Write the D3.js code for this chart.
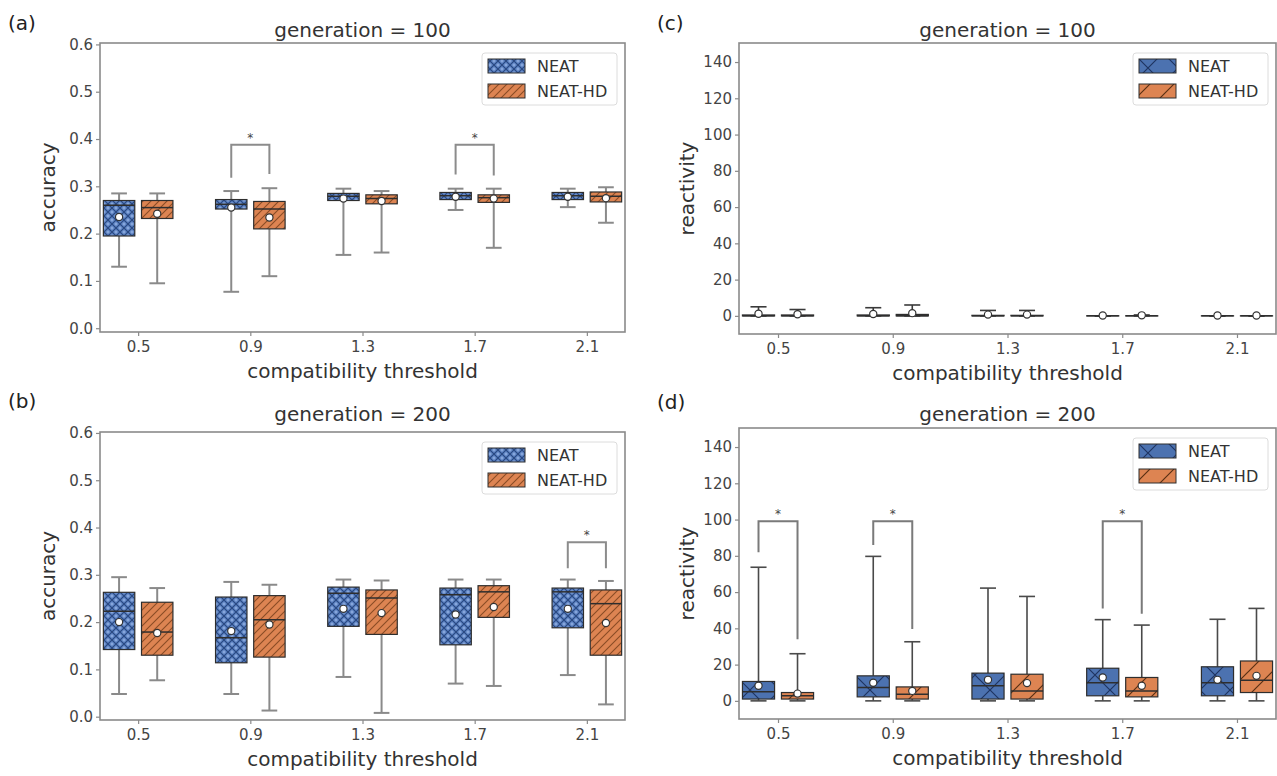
<!DOCTYPE html>
<html>
<head>
<meta charset="utf-8">
<script src="https://cdn.jsdelivr.net/npm/d3@7"></script>
<style>
  body { margin: 0; background: #fff; }
  svg text { font-family: "DejaVu Sans", "Liberation Sans", Arial, sans-serif; }
</style>
</head>
<body>
<svg id="fig" width="1277" height="776"></svg>
<script>
// ---- data -------------------------------------------------------------
const categories = ["0.5", "0.9", "1.3", "1.7", "2.1"];
const seriesNames = ["NEAT", "NEAT-HD"];
const accuracyTicks = [0, 0.1, 0.2, 0.3, 0.4, 0.5, 0.6];
const reactivityTicks = [0, 20, 40, 60, 80, 100, 120, 140];

// each row: [whisker low, q1, median, q3, whisker high, mean]
const accGen100Neat = [
  [0.130, 0.195, 0.260, 0.270, 0.285, 0.235],
  [0.077, 0.252, 0.262, 0.272, 0.290, 0.255],
  [0.155, 0.270, 0.279, 0.285, 0.295, 0.274],
  [0.250, 0.272, 0.280, 0.287, 0.295, 0.278],
  [0.256, 0.272, 0.280, 0.287, 0.295, 0.278]
];
const accGen100Hd = [
  [0.095, 0.232, 0.255, 0.270, 0.285, 0.242],
  [0.110, 0.210, 0.252, 0.268, 0.296, 0.234],
  [0.160, 0.263, 0.274, 0.282, 0.290, 0.269],
  [0.170, 0.266, 0.276, 0.282, 0.295, 0.274],
  [0.223, 0.267, 0.279, 0.288, 0.298, 0.275]
];
const accGen200Neat = [
  [0.048, 0.142, 0.223, 0.263, 0.295, 0.200],
  [0.048, 0.114, 0.167, 0.253, 0.285, 0.181],
  [0.084, 0.191, 0.261, 0.274, 0.290, 0.228],
  [0.070, 0.152, 0.258, 0.272, 0.290, 0.216],
  [0.088, 0.188, 0.264, 0.272, 0.290, 0.228]
];
const accGen200Hd = [
  [0.077, 0.130, 0.179, 0.242, 0.272, 0.177],
  [0.013, 0.126, 0.205, 0.256, 0.279, 0.195],
  [0.008, 0.174, 0.251, 0.268, 0.288, 0.219],
  [0.065, 0.210, 0.264, 0.277, 0.290, 0.232],
  [0.026, 0.130, 0.239, 0.268, 0.287, 0.198]
];
const reactGen100Neat = [
  [0, 0, 0, 0.5, 5.0, 1.2],
  [0, 0, 0, 0.5, 4.5, 1.0],
  [0, 0, 0, 0.3, 3.0, 0.7],
  [0, 0, 0, 0.0, 0.0, 0.2],
  [0, 0, 0, 0.0, 0.0, 0.2]
];
const reactGen100Hd = [
  [0, 0, 0, 0.5, 3.5, 0.9],
  [0, 0, 0, 0.8, 6.0, 1.5],
  [0, 0, 0, 0.3, 3.0, 0.7],
  [0, 0, 0, 0.0, 0.5, 0.3],
  [0, 0, 0, 0.0, 0.0, 0.2]
];
const reactGen200Neat = [
  [0, 1.0, 5.0, 10.7, 73.7, 8.3],
  [0, 2.2, 7.4, 13.8, 79.7, 10.0],
  [0, 1.0, 8.3, 15.3, 62.2, 11.6],
  [0, 2.8, 10.0, 18.0, 44.8, 12.9],
  [0, 2.8, 10.0, 18.8, 45.0, 11.6]
];
const reactGen200Hd = [
  [0, 1.0, 2.8, 4.6, 26.0, 4.0],
  [0, 1.0, 3.7, 7.7, 32.6, 5.5],
  [0, 1.0, 5.5, 14.7, 57.6, 9.8],
  [0, 2.2, 5.5, 12.9, 41.8, 8.3],
  [0, 4.6, 11.4, 22.0, 51.0, 13.8]
];

// significance brackets: category index, bracket top, left / right leg ends
const sigAccGen100 = [
  { cat: 1, top: 0.388, left: 0.318, right: 0.326 },
  { cat: 3, top: 0.388, left: 0.325, right: 0.323 }
];
const sigAccGen200 = [
  { cat: 4, top: 0.369, left: 0.314, right: 0.314 }
];
const sigReactGen100 = [];
const sigReactGen200 = [
  { cat: 0, top: 99, left: 82, right: 34 },
  { cat: 1, top: 99, left: 86, right: 39.6 },
  { cat: 3, top: 99, left: 51, right: 48 }
];

// ---- drawing ----------------------------------------------------------
const svg = d3.select("#fig");
const defs = svg.append("defs");

function addPattern(id, size, bg, draw) {
  const p = defs.append("pattern")
    .attr("id", id)
    .attr("patternUnits", "userSpaceOnUse")
    .attr("width", size).attr("height", size);
  p.append("rect").attr("width", size).attr("height", size).attr("fill", bg);
  draw(p, size);
}

// fine hatches (accuracy panels)
addPattern("neatFine", 8, "#4a70b0", (p, s) => {
  p.append("path").attr("d", `M0,0L${s},${s}M0,${s}L${s},0`)
    .attr("stroke", "#2c4a82").attr("stroke-width", 1);
  [[s / 2, 0], [s / 2, s], [0, s / 2], [s, s / 2]].forEach(([cx, cy]) =>
    p.append("circle").attr("cx", cx).attr("cy", cy).attr("r", 1.7).attr("fill", "#86a6dc"));
});
addPattern("hdFine", 8, "#dd8452", (p, s) => {
  p.append("path").attr("d", `M-1,1L1,-1M0,${s}L${s},0M${s - 1},${s + 1}L${s + 1},${s - 1}`)
    .attr("stroke", "#8a4b24").attr("stroke-width", 1.1);
});
// coarse hatches (reactivity panels)
addPattern("neatCoarse", 30, "#4c72b0", (p, s) => {
  p.append("path").attr("d", `M0,0L${s},${s}M0,${s}L${s},0`)
    .attr("stroke", "#1e3461").attr("stroke-width", 1.2);
});
addPattern("hdCoarse", 24, "#dd8452", (p, s) => {
  p.append("path").attr("d", `M-2,2L2,-2M0,${s}L${s},0M${s - 2},${s + 2}L${s + 2},${s - 2}`)
    .attr("stroke", "#5a2f12").attr("stroke-width", 1.2);
});

const panels = [
  { label: "(a)", labelX: 8, labelY: 30, title: "generation = 100", titleY: 37, ylab: "accuracy",
    x0: 100, x1: 625, y0: 43, y1: 332, domain: [-0.008, 0.603], ticks: accuracyTicks, fmt: d3.format(".1f"),
    series: [accGen100Neat, accGen100Hd], sig: sigAccGen100, fills: ["neatFine", "hdFine"],
    whisker: "#8a8a8a", bracket: "#8c8c8c" },
  { label: "(b)", labelX: 8, labelY: 408, title: "generation = 200", titleY: 421, ylab: "accuracy",
    x0: 100, x1: 625, y0: 432, y1: 720, domain: [-0.007, 0.602], ticks: accuracyTicks, fmt: d3.format(".1f"),
    series: [accGen200Neat, accGen200Hd], sig: sigAccGen200, fills: ["neatFine", "hdFine"],
    whisker: "#8a8a8a", bracket: "#8c8c8c" },
  { label: "(c)", labelX: 657, labelY: 30, title: "generation = 100", titleY: 37, ylab: "reactivity",
    x0: 739, x1: 1276, y0: 43, y1: 334, domain: [-10, 150.5], ticks: reactivityTicks, fmt: d3.format("d"),
    series: [reactGen100Neat, reactGen100Hd], sig: sigReactGen100, fills: ["neatCoarse", "hdCoarse"],
    whisker: "#3a3a3a", bracket: "#7a7a7a" },
  { label: "(d)", labelX: 657, labelY: 409, title: "generation = 200", titleY: 421, ylab: "reactivity",
    x0: 739, x1: 1276, y0: 428, y1: 719, domain: [-10, 150.5], ticks: reactivityTicks, fmt: d3.format("d"),
    series: [reactGen200Neat, reactGen200Hd], sig: sigReactGen200, fills: ["neatCoarse", "hdCoarse"],
    whisker: "#4a4a4a", bracket: "#7a7a7a" }
];

const boxWidth = 0.28, boxOffset = 0.17, capWidth = 0.14;

panels.forEach(cfg => {
  const x = d3.scaleLinear().domain([-0.34, 4.34]).range([cfg.x0, cfg.x1]);
  const y = d3.scaleLinear().domain(cfg.domain).range([cfg.y1, cfg.y0]);
  const unit = x(1) - x(0);
  const g = svg.append("g");

  // y axis
  const yAxis = g.append("g").attr("transform", `translate(${cfg.x0},0)`)
    .call(d3.axisLeft(y).tickValues(cfg.ticks).tickFormat(cfg.fmt).tickSize(4).tickPadding(3));
  // x axis
  const xAxis = g.append("g").attr("transform", `translate(0,${cfg.y1})`)
    .call(d3.axisBottom(x).tickValues(d3.range(categories.length))
      .tickFormat(i => categories[i]).tickSize(4).tickPadding(5));
  [yAxis, xAxis].forEach(a => {
    a.select(".domain").remove();
    a.selectAll(".tick line").attr("stroke", "#8a8a8a").attr("stroke-width", 1.2);
    a.selectAll(".tick text").attr("fill", "#444").style("font-size", "15px");
  });

  // significance brackets
  cfg.sig.forEach(s => {
    const xl = x(s.cat - boxOffset), xr = x(s.cat + boxOffset);
    g.append("path")
      .attr("d", `M${xl},${y(s.left)}L${xl},${y(s.top)}L${xr},${y(s.top)}L${xr},${y(s.right)}`)
      .attr("fill", "none").attr("stroke", cfg.bracket).attr("stroke-width", 2);
    g.append("text").attr("x", (xl + xr) / 2).attr("y", y(s.top) - 3)
      .attr("text-anchor", "middle").attr("fill", "#444").style("font-size", "12px").text("*");
  });

  // boxes
  cfg.series.forEach((rows, si) => {
    const off = si === 0 ? -boxOffset : boxOffset;
    rows.forEach((r, ci) => {
      const [lo, q1, med, q3, hi, mean] = r;
      const cx = x(ci + off);
      const half = boxWidth * unit / 2, capHalf = capWidth * unit / 2;
      const wg = g.append("g").attr("stroke", cfg.whisker).attr("stroke-width", cfg.whisker === "#8a8a8a" ? 2 : 1.6);
      wg.append("line").attr("x1", cx).attr("x2", cx).attr("y1", y(lo)).attr("y2", y(q1));
      wg.append("line").attr("x1", cx).attr("x2", cx).attr("y1", y(q3)).attr("y2", y(hi));
      wg.append("line").attr("x1", cx - capHalf).attr("x2", cx + capHalf).attr("y1", y(lo)).attr("y2", y(lo));
      wg.append("line").attr("x1", cx - capHalf).attr("x2", cx + capHalf).attr("y1", y(hi)).attr("y2", y(hi));
      g.append("rect")
        .attr("x", cx - half).attr("width", 2 * half)
        .attr("y", y(q3)).attr("height", Math.max(0.01, y(q1) - y(q3)))
        .attr("fill", `url(#${cfg.fills[si]})`)
        .attr("stroke", "#2e2e2e").attr("stroke-width", 1.2);
      g.append("line").attr("x1", cx - half).attr("x2", cx + half)
        .attr("y1", y(med)).attr("y2", y(med))
        .attr("stroke", "#2e2e2e").attr("stroke-width", 1.5);
      g.append("circle").attr("cx", cx).attr("cy", y(mean)).attr("r", 3.6)
        .attr("fill", "#fff").attr("stroke", "#333").attr("stroke-width", 1.2);
    });
  });

  // frame
  g.append("rect").attr("x", cfg.x0).attr("y", cfg.y0)
    .attr("width", cfg.x1 - cfg.x0).attr("height", cfg.y1 - cfg.y0)
    .attr("fill", "none").attr("stroke", "#8a8a8a").attr("stroke-width", 1.6);

  // legend
  const lw = 135, lh = 52;
  const lx = cfg.x1 - 8 - lw, ly = cfg.y0 + 10;
  const lg = g.append("g").attr("transform", `translate(${lx},${ly})`);
  lg.append("rect").attr("width", lw).attr("height", lh).attr("rx", 3)
    .attr("fill", "#fff").attr("fill-opacity", 0.85).attr("stroke", "#dcdcdc");
  seriesNames.forEach((name, i) => {
    const py = 6 + i * 25;
    lg.append("rect").attr("x", 6).attr("y", py).attr("width", 37).attr("height", 14)
      .attr("fill", `url(#${cfg.fills[i]})`).attr("stroke", "#2e2e2e").attr("stroke-width", 1);
    lg.append("text").attr("x", 55).attr("y", py + 7).attr("dy", "0.36em")
      .attr("fill", "#333").style("font-size", "16px").text(name);
  });

  // titles and labels
  const cxMid = (cfg.x0 + cfg.x1) / 2;
  g.append("text").attr("x", cxMid).attr("y", cfg.titleY).attr("text-anchor", "middle")
    .attr("fill", "#333").style("font-size", "20px").text(cfg.title);
  g.append("text").attr("x", cxMid).attr("y", cfg.y1 + 46).attr("text-anchor", "middle")
    .attr("fill", "#333").style("font-size", "20px").text("compatibility threshold");
  g.append("text")
    .attr("transform", `translate(${cfg.x0 - 45},${(cfg.y0 + cfg.y1) / 2}) rotate(-90)`)
    .attr("text-anchor", "middle").attr("fill", "#333").style("font-size", "20px").text(cfg.ylab);
  svg.append("text").attr("x", cfg.labelX).attr("y", cfg.labelY)
    .attr("fill", "#222").style("font-size", "20px").text(cfg.label);
});
</script>
</body>
</html>
